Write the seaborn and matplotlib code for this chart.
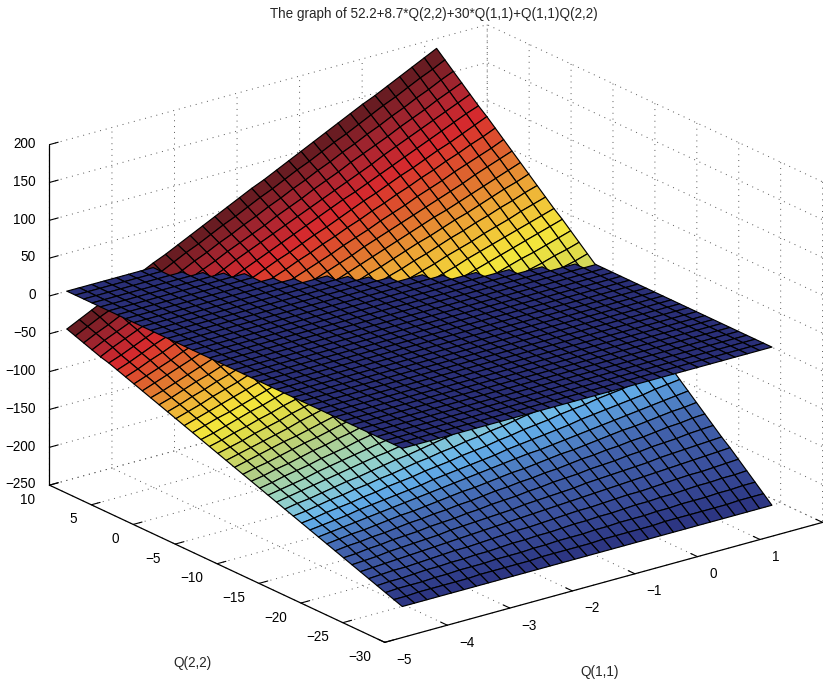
import numpy as np
import matplotlib
matplotlib.use("Agg")
import matplotlib.pyplot as plt
import seaborn as sns
from mpl_toolkits.mplot3d.art3d import Poly3DCollection

TITLE = "The graph of 52.2+8.7*Q(2,2)+30*Q(1,1)+Q(1,1)Q(2,2)"
X_LABEL = "Q(1,1)"
Y_LABEL = "Q(2,2)"
X_TICKS = [-5, -4, -3, -2, -1, 0, 1, 2]
Y_TICKS = [-30, -25, -20, -15, -10, -5, 0, 5, 10]
Z_TICKS = [-250, -200, -150, -100, -50, 0, 50, 100, 150, 200]

Q11_GRID = [-4.72, -4.523, -4.326, -4.129, -3.932, -3.735, -3.538, -3.341, -3.144, -2.947, -2.75, -2.553, -2.356, -2.159, -1.962, -1.765,
            -1.568, -1.371, -1.174, -0.977, -0.78, -0.583, -0.386, -0.189, 0.008, 0.205, 0.402, 0.599, 0.796, 0.993, 1.19]
Q22_GRID = [-30, -29, -28, -27, -26, -25, -24, -23, -22, -21, -20, -19, -18, -17, -16, -15, -14, -13, -12, -11, -10,
            -9, -8, -7, -6, -5, -4, -3, -2, -1, 0, 1, 2, 3, 4, 5, 6, 7, 8, 9, 10]
PLANE_LEVEL = 0.0

# Surface height, one row per Q(1,1) value, one column per Q(2,2) value
SURFACE_Z = [
    [-209,-205,-201,-197,-193,-189,-185,-181,-177,-173,-169,-165,-161,-157,-153,-149,-145,-141,-137,-133,-129,-125,-121,-117,-113,-109,-105,-101,-97,-93,-89,-85,-81,-77,-73,-69,-66,-62,-58,-54,-50],
    [-209,-205,-200,-196,-192,-188,-184,-180,-175,-171,-167,-163,-159,-155,-150,-146,-142,-138,-134,-129,-125,-121,-117,-113,-109,-104,-100,-96,-92,-88,-84,-79,-75,-71,-67,-63,-58,-54,-50,-46,-42],
    [-209,-204,-200,-196,-191,-187,-183,-178,-174,-169,-165,-161,-156,-152,-148,-143,-139,-134,-130,-126,-121,-117,-113,-108,-104,-99,-95,-91,-86,-82,-78,-73,-69,-64,-60,-56,-51,-47,-43,-38,-34],
    [-209,-204,-200,-195,-191,-186,-181,-177,-172,-168,-163,-159,-154,-149,-145,-140,-136,-131,-127,-122,-117,-113,-108,-104,-99,-95,-90,-85,-81,-76,-72,-67,-63,-58,-53,-49,-44,-40,-35,-31,-26],
    [-209,-204,-199,-194,-190,-185,-180,-175,-171,-166,-161,-156,-152,-147,-142,-137,-132,-128,-123,-118,-113,-109,-104,-99,-94,-90,-85,-80,-75,-71,-66,-61,-56,-51,-47,-42,-37,-32,-28,-23,-18],
    [-209,-204,-199,-194,-189,-184,-179,-174,-169,-164,-159,-154,-149,-144,-139,-134,-129,-124,-119,-114,-110,-105,-100,-95,-90,-85,-80,-75,-70,-65,-60,-55,-50,-45,-40,-35,-30,-25,-20,-15,-10],
    [-209,-204,-198,-193,-188,-183,-178,-173,-167,-162,-157,-152,-147,-142,-137,-131,-126,-121,-116,-111,-106,-100,-95,-90,-85,-80,-75,-69,-64,-59,-54,-49,-44,-38,-33,-28,-23,-18,-13,-7,-2],
    [-209,-203,-198,-193,-187,-182,-177,-171,-166,-161,-155,-150,-144,-139,-134,-128,-123,-118,-112,-107,-102,-96,-91,-86,-80,-75,-69,-64,-59,-53,-48,-43,-37,-32,-27,-21,-16,-11,-5,0,6],
    [-209,-203,-198,-192,-187,-181,-175,-170,-164,-159,-153,-148,-142,-137,-131,-125,-120,-114,-109,-103,-98,-92,-87,-81,-75,-70,-64,-59,-53,-48,-42,-37,-31,-25,-20,-14,-9,-3,2,8,13],
    [-209,-203,-197,-192,-186,-180,-174,-169,-163,-157,-151,-146,-140,-134,-128,-123,-117,-111,-105,-99,-94,-88,-82,-76,-71,-65,-59,-53,-48,-42,-36,-30,-25,-19,-13,-7,-2,4,10,16,21],
    [-209,-203,-197,-191,-185,-179,-173,-167,-161,-155,-149,-143,-137,-131,-126,-120,-114,-108,-102,-96,-90,-84,-78,-72,-66,-60,-54,-48,-42,-36,-30,-24,-18,-12,-6,-1,5,11,17,23,29],
    [-209,-203,-197,-190,-184,-178,-172,-166,-160,-153,-147,-141,-135,-129,-123,-117,-110,-104,-98,-92,-86,-80,-74,-67,-61,-55,-49,-43,-37,-31,-24,-18,-12,-6,0,6,13,19,25,31,37],
    [-209,-202,-196,-190,-183,-177,-171,-164,-158,-152,-145,-139,-133,-126,-120,-114,-107,-101,-95,-88,-82,-76,-69,-63,-57,-50,-44,-38,-31,-25,-18,-12,-6,1,7,13,20,26,32,39,45],
    [-209,-202,-196,-189,-183,-176,-170,-163,-156,-150,-143,-137,-130,-124,-117,-111,-104,-98,-91,-85,-78,-71,-65,-58,-52,-45,-39,-32,-26,-19,-13,-6,1,7,14,20,27,33,40,46,53],
    [-209,-202,-195,-189,-182,-175,-168,-162,-155,-148,-141,-135,-128,-121,-114,-108,-101,-94,-87,-81,-74,-67,-61,-54,-47,-40,-34,-27,-20,-13,-7,0,7,14,20,27,34,40,47,54,61],
    [-209,-202,-195,-188,-181,-174,-167,-160,-153,-146,-139,-133,-126,-119,-112,-105,-98,-91,-84,-77,-70,-63,-56,-49,-42,-35,-29,-22,-15,-8,-1,6,13,20,27,34,41,48,55,62,69],
    [-209,-202,-195,-187,-180,-173,-166,-159,-152,-145,-137,-130,-123,-116,-109,-102,-95,-88,-80,-73,-66,-59,-52,-45,-38,-30,-23,-16,-9,-2,5,12,19,27,34,41,48,55,62,69,76],
    [-209,-201,-194,-187,-179,-172,-165,-157,-150,-143,-135,-128,-121,-114,-106,-99,-92,-84,-77,-70,-62,-55,-48,-40,-33,-26,-18,-11,-4,4,11,18,26,33,40,48,55,62,70,77,84],
    [-209,-201,-194,-186,-179,-171,-164,-156,-149,-141,-134,-126,-118,-111,-103,-96,-88,-81,-73,-66,-58,-51,-43,-36,-28,-21,-13,-6,2,9,17,25,32,40,47,55,62,70,77,85,92],
    [-209,-201,-193,-186,-178,-170,-162,-155,-147,-139,-132,-124,-116,-108,-101,-93,-85,-78,-70,-62,-54,-47,-39,-31,-23,-16,-8,0,7,15,23,31,38,46,54,62,69,77,85,92,100],
    [-209,-201,-193,-185,-177,-169,-161,-153,-145,-138,-130,-122,-114,-106,-98,-90,-82,-74,-66,-58,-50,-43,-35,-27,-19,-11,-3,5,13,21,29,37,45,53,61,68,76,84,92,100,108],
    [-209,-201,-193,-184,-176,-168,-160,-152,-144,-136,-128,-120,-111,-103,-95,-87,-79,-71,-63,-55,-46,-38,-30,-22,-14,-6,2,10,18,27,35,43,51,59,67,75,83,92,100,108,116],
    [-209,-200,-192,-184,-176,-167,-159,-151,-142,-134,-126,-117,-109,-101,-92,-84,-76,-67,-59,-51,-43,-34,-26,-18,-9,-1,7,16,24,32,41,49,57,66,74,82,90,99,107,115,124],
    [-209,-200,-192,-183,-175,-166,-158,-149,-141,-132,-124,-115,-107,-98,-90,-81,-73,-64,-56,-47,-39,-30,-22,-13,-5,4,13,21,30,38,47,55,64,72,81,89,98,106,115,123,132],
    [-209,-200,-191,-183,-174,-165,-157,-148,-139,-130,-122,-113,-104,-96,-87,-78,-69,-61,-52,-43,-35,-26,-17,-8,0,9,18,26,35,44,52,61,70,79,87,96,105,113,122,131,140],
    [-209,-200,-191,-182,-173,-164,-155,-146,-138,-129,-120,-111,-102,-93,-84,-75,-66,-57,-48,-40,-31,-22,-13,-4,5,14,23,32,41,49,58,67,76,85,94,103,112,121,130,139,147],
    [-209,-200,-191,-181,-172,-163,-154,-145,-136,-127,-118,-109,-100,-90,-81,-72,-63,-54,-45,-36,-27,-18,-9,1,10,19,28,37,46,55,64,73,83,92,101,110,119,128,137,146,155],
    [-209,-200,-190,-181,-172,-162,-153,-144,-134,-125,-116,-107,-97,-88,-79,-69,-60,-51,-41,-32,-23,-14,-4,5,14,24,33,42,52,61,70,80,89,98,107,117,126,135,145,154,163],
    [-209,-199,-190,-180,-171,-161,-152,-142,-133,-123,-114,-104,-95,-85,-76,-66,-57,-47,-38,-28,-19,-9,0,10,19,29,38,48,57,67,76,86,95,105,114,124,133,143,152,162,171],
    [-209,-199,-189,-180,-170,-160,-151,-141,-131,-122,-112,-102,-93,-83,-73,-63,-54,-44,-34,-25,-15,-5,4,14,24,34,43,53,63,72,82,92,101,111,121,131,140,150,160,169,179],
    [-209,-199,-189,-179,-169,-159,-150,-140,-130,-120,-110,-100,-90,-80,-70,-61,-51,-41,-31,-21,-11,-1,9,19,29,39,48,58,68,78,88,98,108,118,128,137,147,157,167,177,187],
]

# Colour ramp, from Q(2,2) = -30 up to Q(2,2) = 10
RAMP = ["#2b3380", "#3a4f9c", "#4263ad", "#5288cc", "#66b4ee", "#96d2c8", "#b5cf80", "#e0dc4a",
        "#f5e63a", "#eeb038", "#e0702f", "#d82a2e", "#a82530", "#5e1a20"]
RAMP_AT = [0.0, 0.1, 0.2, 0.25, 0.3, 0.37, 0.47, 0.56, 0.62, 0.70, 0.77, 0.86, 0.93, 1.0]
PLANE_COLOR = "#2a2f78"

sns.set_theme(style="white")
plt.rcParams["font.family"] = ["Liberation Sans", "DejaVu Sans"]
plt.rcParams["font.size"] = 9.75
ramp = sns.blend_palette(RAMP, n_colors=256, as_cmap=True)

W, H = 823, 683
fig = plt.figure(figsize=(W / 100, H / 100), dpi=100)
S = 836.0
left, bottom = 6.7, -79.8
ax = fig.add_axes([left / W, bottom / H, S / W, S / H], projection="3d")
ax.set_proj_type("ortho")
ax.set_box_aspect((550, 551, 364))
ax.view_init(elev=21.0, azim=-127.4)
ax.set_xlim(X_TICKS[0], X_TICKS[-1])
ax.set_ylim(Y_TICKS[0], Y_TICKS[-1])
ax.set_zlim(Z_TICKS[0], Z_TICKS[-1])

xs = np.array(Q11_GRID)
ys = np.array(Q22_GRID)
zs = np.array(SURFACE_Z, dtype=float)
polys, faces = [], []
for i in range(len(xs) - 1):
    for j in range(len(ys) - 1):
        xq = [xs[i], xs[i + 1], xs[i + 1], xs[i]]
        yq = [ys[j], ys[j], ys[j + 1], ys[j + 1]]
        t = ((ys[j] + ys[j + 1]) / 2 - Y_TICKS[0]) / (Y_TICKS[-1] - Y_TICKS[0])
        polys.append(list(zip(xq, yq, [zs[i, j], zs[i + 1, j], zs[i + 1, j + 1], zs[i, j + 1]])))
        faces.append(np.interp(t, RAMP_AT, np.linspace(0, 1, len(RAMP))))
        polys.append(list(zip(xq, yq, [PLANE_LEVEL] * 4)))
        faces.append(-1)
colors = [PLANE_COLOR if f < 0 else ramp(f) for f in faces]
coll = Poly3DCollection(polys, facecolors=colors, edgecolors="black", linewidths=0.85)
ax.add_collection3d(coll)

ax.set_xticks(X_TICKS)
ax.set_yticks(Y_TICKS)
ax.set_zticks(Z_TICKS)
for axis in (ax.xaxis, ax.yaxis, ax.zaxis):
    axis.set_pane_color((1, 1, 1, 0))
    axis.pane.set_edgecolor("none")
    axis.line.set_color("black")
    axis.line.set_linewidth(0.9)
    axis._axinfo["grid"].update(color="#555555", linewidth=0.7, linestyle=(0, (1, 5)))
    axis._axinfo["tick"].update(inward_factor=0.0, outward_factor=0.25)
    axis._axinfo["tick"]["linewidth"] = {True: 0.8, False: 0.5}
ax.tick_params(axis="both", labelsize=9.75, colors="black", pad=2)
ax.xaxis.set_tick_params(pad=3)
ax.zaxis.set_tick_params(pad=-2.5)
for lab in ax.xaxis.get_ticklabels():
    lab.set_ha("left")
    lab.set_va("center")
for lab in ax.yaxis.get_ticklabels():
    lab.set_ha("right")
    lab.set_va("center")
for lab in ax.zaxis.get_ticklabels():
    lab.set_ha("right")
    lab.set_va("center")

fig.text(434 / W, 1 - 14 / H, TITLE, ha="center", va="center", fontsize=9.75)
fig.text(600 / W, 1 - 672 / H, X_LABEL, ha="center", va="center", fontsize=9.75)
fig.text(193 / W, 1 - 663 / H, Y_LABEL, ha="center", va="center", fontsize=9.75)

fig.savefig("out.png", dpi=100)
